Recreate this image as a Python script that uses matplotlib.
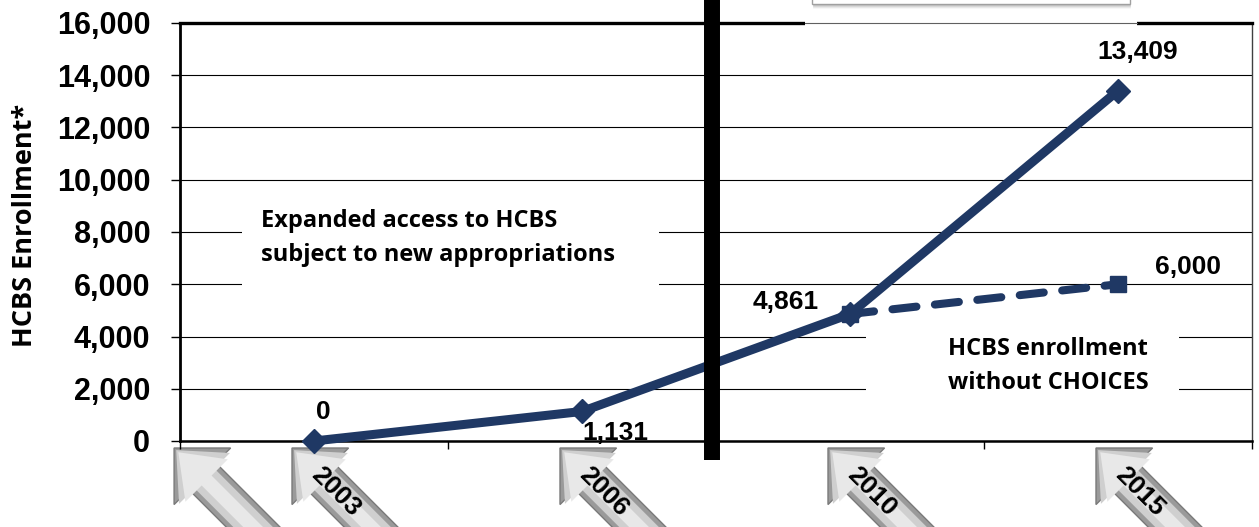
import numpy as np
import matplotlib.pyplot as plt
from matplotlib.patches import Polygon, Rectangle
from matplotlib.lines import Line2D
from matplotlib.transforms import IdentityTransform

# data
years = ["2003", "2006", "2010", "2015"]
enrollment = [0, 1131, 4861, 13409]
no_choices_years = ["2010", "2015"]
no_choices = [4861, 6000]
y_ticks = list(range(0, 16001, 2000))

NAVY = "#1F3864"
NUM_FONT = "Liberation Sans"
TXT_FONT = "Open Sans"

W, H = 1259, 527
fig = plt.figure(figsize=(W / 100, H / 100), dpi=100)
ax = fig.add_axes([180 / W, 1 - 441 / H, (1252 - 180) / W, (441 - 23) / H])
ax.patch.set_visible(False)

x = np.arange(len(years))
xn = [years.index(y) for y in no_choices_years]

ax.set_xlim(-0.5, len(years) - 0.5)
ax.set_ylim(0, 16000)
ax.set_yticks(y_ticks)
ax.set_yticklabels([f"{v:,}" for v in y_ticks], fontfamily=NUM_FONT,
                   fontweight="bold", fontsize=22)
ax.set_xticks(np.arange(len(years) + 1) - 0.5)
ax.set_xticklabels([])
ax.tick_params(axis="y", length=6.5, width=1, pad=15)
ax.tick_params(axis="x", length=6, width=1)
ax.yaxis.grid(True, color="black", lw=0.8)
ax.set_axisbelow(True)
ax.spines["left"].set_linewidth(2)
ax.spines["bottom"].set_linewidth(1.8)
ax.spines["top"].set_linewidth(2.4)
ax.spines["right"].set_linewidth(1)
ax.spines["right"].set_color("#404040")

# white boxes behind the notes (break the gridlines)
ax.add_patch(Rectangle((-0.269, 5709), 1.556, 3716, fc="white", ec="none", zorder=1))
ax.add_patch(Rectangle((2.06, 1571), 1.168, 3831, fc="white", ec="none", zorder=1))

ax.text(-0.198, 7778, "Expanded access to HCBS\nsubject to new appropriations",
        ha="left", va="center", fontfamily=TXT_FONT, fontweight="bold",
        fontsize=17, linespacing=1.55, zorder=2)
ax.text(2.74, 2874, "HCBS enrollment\nwithout CHOICES", ha="center", va="center",
        fontfamily=TXT_FONT, fontweight="bold", fontsize=17, linespacing=1.55,
        zorder=2)

# series
ax.plot(xn, no_choices, color=NAVY, lw=5.8, ls=(0, (3, 2.3)),
        dash_capstyle="round", marker="s", ms=11, zorder=3, clip_on=False)
ax.plot(x, enrollment, color=NAVY, lw=6.5, marker="D", ms=12,
        solid_capstyle="round", zorder=4, clip_on=False)

# data labels
label_offsets = [(9, 29), (33, -22), (-64, 12), (20, 39)]
for xi, v, off in zip(x, enrollment, label_offsets):
    ax.annotate(f"{v:,}", (xi, v), xytext=off, textcoords="offset pixels",
                ha="center", va="center", fontfamily=NUM_FONT,
                fontweight="bold", fontsize=19, zorder=5)
ax.annotate(f"{no_choices[-1]:,}", (xn[-1], no_choices[-1]), xytext=(70, 17),
            textcoords="offset pixels", ha="center", va="center",
            fontfamily=NUM_FONT, fontweight="bold", fontsize=19, zorder=5)

# divider
ax.plot([1.485, 1.485], [-730, 18000], color="black", lw=11.5,
        solid_capstyle="butt", clip_on=False, zorder=6)

fig.text(25 / W, 1 - 225 / H, "HCBS Enrollment*", rotation=90, ha="center",
         va="center", fontfamily=TXT_FONT, fontweight="bold", fontsize=19.5)

# box at the top (mostly cut off)
fig.add_artist(Rectangle((805, H - 27), 332, 12, fc="white", ec="none",
                         transform=IdentityTransform(), zorder=5))
fig.add_artist(Line2D([805, 1137], [H - 23, H - 23], color="#606060", lw=0.8,
                      transform=IdentityTransform(), zorder=6))
for k, a in enumerate([0.35, 0.25, 0.15, 0.07]):
    fig.add_artist(Line2D([814, 1130], [H - 5 - k, H - 5 - k], color="gray",
                          alpha=a, lw=1.2, transform=IdentityTransform(), zorder=5))
fig.add_artist(Rectangle((812, H - 4), 318, 10, fc="white", ec="#a0a0a0", lw=1,
                         transform=IdentityTransform(), zorder=6))

# arrow-shaped category labels
fig.canvas.draw()
d = np.array([1, -1]) / np.sqrt(2)
n = np.array([1, 1]) / np.sqrt(2)


def arrow(px, py, label):
    layers = [(40, 19, "#9a9a9a"), (36, 14, "#cfcfcf"), (30, 7, "#e8e8e8")]
    for k, (hw, sw, col) in enumerate(layers):
        u0 = 3 * k
        loc = [(u0, 0), (u0 + 40, hw), (u0 + 40, sw), (260, sw), (260, -sw),
               (u0 + 40, -sw), (u0 + 40, -hw)]
        pts = [(px + u * d[0] + v * n[0], py + u * d[1] + v * n[1]) for u, v in loc]
        fig.add_artist(Polygon(pts, closed=True, fc=col,
                               ec="#7a7a7a" if k == 0 else "none", lw=1,
                               transform=IdentityTransform(), zorder=-1))
    if label:
        fig.text(px + 62 * d[0], py + 62 * d[1], label, rotation=-45,
                 rotation_mode="anchor", ha="center", va="center",
                 fontfamily=NUM_FONT, fontweight="bold", fontsize=19,
                 transform=IdentityTransform(), zorder=0)


for xi, lab in [(-0.44, "")] + list(zip(x, years)):
    px, py = ax.transData.transform((xi, 0))
    arrow(px - 22, py - 7, lab)

fig.savefig("out.png", dpi=100)
